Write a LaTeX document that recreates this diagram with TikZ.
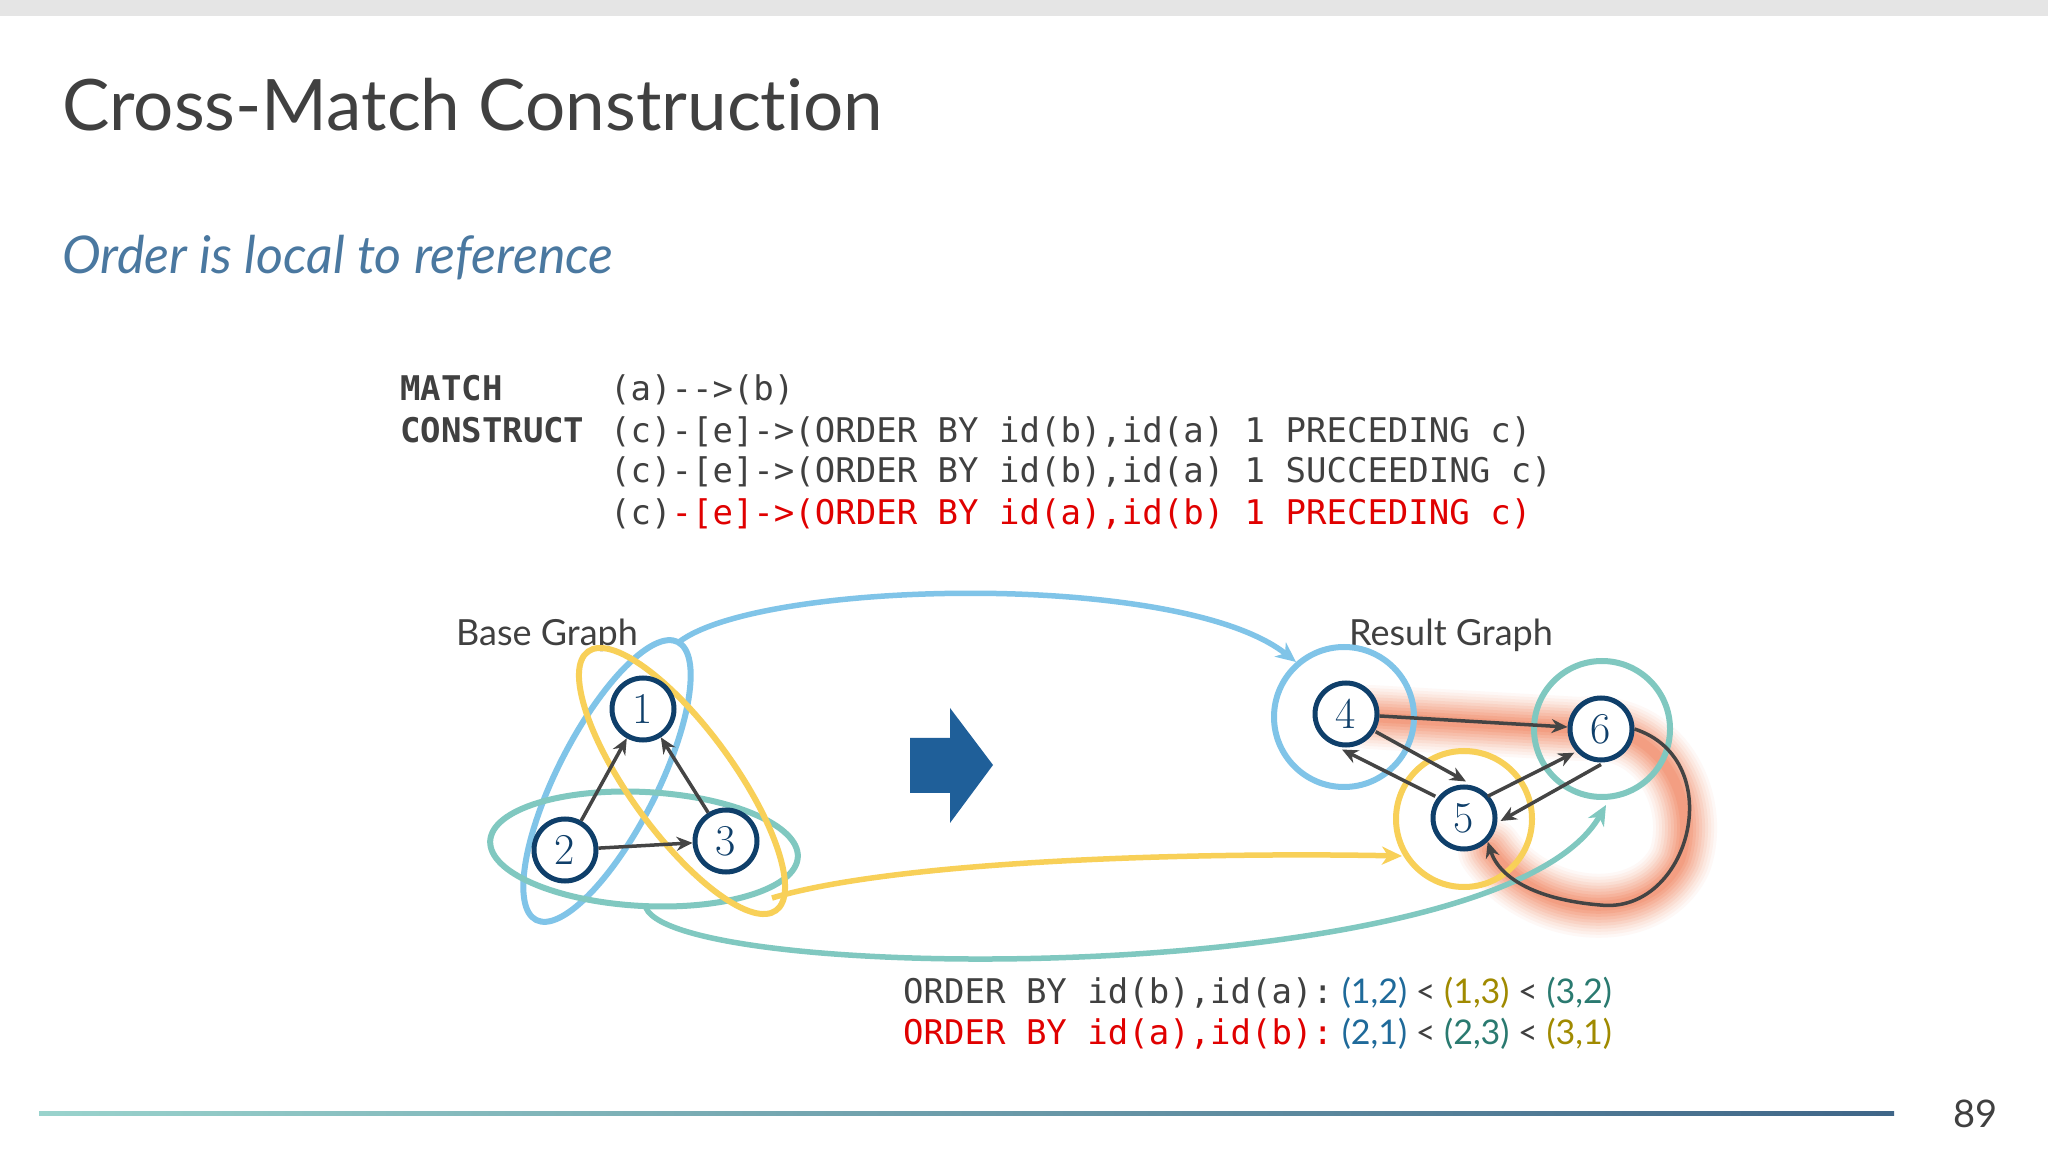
\documentclass[tikz,border=0pt]{standalone}
\usepackage{fontspec}
\setmainfont{Lato}[Ligatures={NoCommon,NoRare}]
\setmonofont{DejaVu Sans Mono}
\usetikzlibrary{arrows.meta,shapes.geometric}
\definecolor{txt}{HTML}{404040}
\definecolor{sub}{HTML}{4A78A0}
\definecolor{nblue}{HTML}{0F3F6A}
\definecolor{eblue}{HTML}{80C4E8}
\definecolor{eyel}{HTML}{F8D058}
\definecolor{eteal}{HTML}{80C8C0}
\definecolor{edge}{HTML}{444444}
\definecolor{red1}{HTML}{E00000}
\definecolor{bigar}{HTML}{1F5F99}
\definecolor{tblue}{HTML}{1F6A9A}
\definecolor{tolive}{HTML}{A08A00}
\definecolor{tteal}{HTML}{2A7A70}
\definecolor{glow}{HTML}{F28A68}
\begin{document}
\begin{tikzpicture}[x=1pt,y=1pt,
  vert/.style={circle,draw=nblue,line width=5pt,fill=white,minimum size=62pt,inner sep=0pt,text=nblue,font=\fontspec{Latin Modern Roman}\fontsize{44}{44}\selectfont},
  ed/.style={draw=edge,line width=3.5pt,-{Stealth[length=16pt,width=14pt]}},
  ring/.style={line width=6pt},
  big/.style={line width=5.5pt,-{Stealth[length=20pt,width=18pt,inset=6pt]}},
  code/.style={anchor=base west,inner sep=0pt,font=\ttfamily\fontsize{34}{34}\selectfont,text=txt},
  lbl/.style={anchor=base west,inner sep=0pt,font=\fontsize{36}{36}\selectfont,text=txt}]
\useasboundingbox (0,0) rectangle (2048,1152);
\fill[white] (0,0) rectangle (2048,1152);
\fill[black!10] (0,1136) rectangle (2048,1152);
\node[anchor=base west,inner sep=0pt,text=txt,font=\fontsize{71}{71}\selectfont] (title) at (62,{1152-131}) {Cross-Match Construction};
\node[anchor=base west,inner sep=0pt,text=sub,font=\itshape\fontsize{52}{52}\selectfont] (subt) at (62,{1152-274}) {Order is local to reference};
% code
\node[code,font=\ttfamily\bfseries\fontsize{34}{34}\selectfont] (k1) at (400,{1152-401}) {MATCH};
\node[code,font=\ttfamily\bfseries\fontsize{34}{34}\selectfont] (k2) at (400,{1152-443}) {CONSTRUCT};
\node[code] (c1) at (610,{1152-401}) {(a)-->(b)};
\node[code] (c2) at (610,{1152-443}) {(c)-[e]->(ORDER BY id(b),id(a) 1 PRECEDING c)};
\node[code] (c3) at (610,{1152-483}) {(c)-[e]->(ORDER BY id(b),id(a) 1 SUCCEEDING c)};
\node[code] (c4) at (610,{1152-525}) {(c)\textcolor{red1}{-[e]->(ORDER BY id(a),id(b) 1 PRECEDING c)}};
\node[lbl] (bg) at (456,{1152-646}) {Base Graph};
\node[lbl] (rg) at (1349,{1152-646}) {Result Graph};
% glow
\foreach \w/\o in {64/0.06,58/0.07,52/0.08,46/0.1,40/0.12,34/0.14,28/0.16,22/0.2,16/0.25,10/0.3}{
 \draw[glow,line width=\w pt,opacity=\o,line cap=round,line join=round]
  (1370,{1152-717}) -- (1580,{1152-729}) .. controls (1660,{1152-720}) and (1700,{1152-800}) .. (1680,{1152-860}) .. controls (1650,{1152-925}) and (1540,{1152-920}) .. (1490,{1152-850});
}
% ellipses
\draw[eblue,ring] (607,{1152-781}) ellipse[x radius=156pt,y radius=50pt,rotate=63];
\draw[eteal,ring] (644,{1152-849}) ellipse[x radius=154pt,y radius=57pt,rotate=-3];
\draw[eyel,ring] (682,{1152-781}) ellipse[x radius=160pt,y radius=52pt,rotate=-54];
\draw[eblue,ring] (1344,{1152-717}) circle[radius=70pt];
\draw[eteal,ring] (1602,{1152-729}) circle[radius=68pt];
\draw[eyel,ring] (1464,{1152-819}) circle[radius=68pt];
% big arrows
\coordinate (bs) at (679,{1152-642});
\coordinate (be) at (1296,{1152-662});
\draw[eblue,big] (bs) .. controls (760,{1152-580}) and (1180,{1152-570}) .. (be);
\coordinate (ys) at (772,{1152-898});
\coordinate (ye) at (1402,{1152-856});
\draw[eyel,big] (ys) .. controls (900,{1152-860}) and (1200,{1152-852}) .. (ye);
\coordinate (ts) at (646,{1152-908});
\coordinate (te) at (1606,{1152-805});
\draw[eteal,big] (ts) .. controls (680,{1152-985}) and (1500,{1152-990}) .. (te);
% block arrow
\fill[bigar] (910,{1152-738}) -- (950,{1152-738}) -- (950,{1152-708}) -- (993,{1152-765}) -- (950,{1152-823}) -- (950,{1152-793}) -- (910,{1152-793}) -- cycle;
% vertices
\node[vert] (n1) at (643,{1152-709}) {1};
\node[vert] (n2) at (565,{1152-850}) {2};
\node[vert] (n3) at (726,{1152-841}) {3};
\node[vert] (n4) at (1346,{1152-714}) {4};
\node[vert] (n5) at (1464,{1152-818}) {5};
\node[vert] (n6) at (1601,{1152-729}) {6};
\draw[ed] (n2) -- (n1);
\draw[ed] (n3) -- (n1);
\draw[ed] (n2) -- (n3);
\draw[ed] (n4) -- (n6);
\draw[ed] ([xshift=6pt,yshift=6pt]n4.south east) -- ([xshift=2pt,yshift=3pt]n5.north);
\draw[ed] ([xshift=-5pt,yshift=-2pt]n5.north west) -- ([xshift=-4pt,yshift=-2pt]n4.south);
\draw[ed] ([yshift=-2pt]n5.north east) -- ([xshift=-3pt]n6.south west);
\draw[ed] ([yshift=-2pt]n6.south) -- ([xshift=3pt,yshift=-3pt]n5.east);
\draw[ed] (n6.east) .. controls (1730,{1152-760}) and (1690,{1152-915}) .. (1600,{1152-905}) .. controls (1540,{1152-900}) and (1500,{1152-880}) .. (n5.south east);
% bottom text
\node[code] (o1) at (903,{1152-1003}) {ORDER BY id(b),id(a):\fontspec{Lato}\fontsize{34}{34}\selectfont\ \textcolor{tblue}{(1,2)} < \textcolor{tolive}{(1,3)} < \textcolor{tteal}{(3,2)}};
\node[code,text=red1] (o2) at (903,{1152-1044}) {ORDER BY id(a),id(b):\fontspec{Lato}\fontsize{34}{34}\selectfont\ \textcolor{tblue}{(2,1)} \textcolor{txt}{<} \textcolor{tteal}{(2,3)} \textcolor{txt}{<} \textcolor{tolive}{(3,1)}};
% footer
\shade[left color=eteal!80!white,right color=nblue!80] (39,{1152-1115}) rectangle (1894,{1152-1111});
\node[anchor=base west,inner sep=0pt,text=txt,font=\fontsize{38}{38}\selectfont] (pg) at (1953,{1152-1127}) {89};
\end{tikzpicture}
\end{document}
